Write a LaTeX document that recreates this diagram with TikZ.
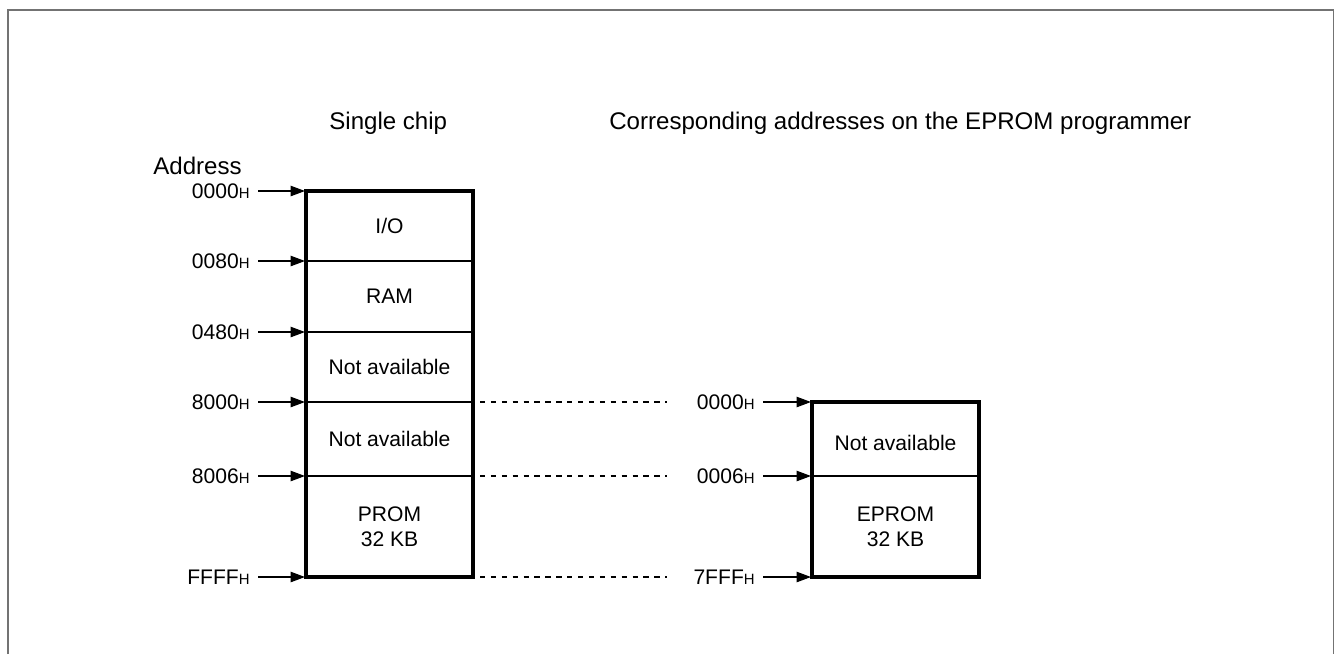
\documentclass[tikz,border=0pt]{standalone}
\usepackage{fontspec}
\setmainfont{Liberation Sans}
\usetikzlibrary{arrows.meta}
\usetikzlibrary{positioning}

\newcommand{\hexaddr}[1]{#1{\fontsize{8.5pt}{10pt}\selectfont H}}

\tikzset{
  cell/.style={align=center, font=\fontsize{12pt}{14.5pt}\selectfont},
  addrlabel/.style={anchor=east, inner xsep=0.16cm, inner ysep=0pt, font=\fontsize{12pt}{14.5pt}\selectfont},
  addrarrow/.style={-{Triangle[length=0.29cm, width=0.21cm]}, line width=0.65pt},
  title/.style={anchor=base west, inner sep=0pt, font=\fontsize{13.7pt}{16pt}\selectfont},
  memframe/.style={line width=1.8pt},
  divider/.style={line width=0.65pt},
  guide/.style={dash pattern=on 3pt off 3.2pt, line width=0.65pt}
}

\begin{document}
\begin{tikzpicture}[x=0.02cm, y=-0.02cm]
  \useasboundingbox (0,0) rectangle (1335,654);
  % outer frame, open at the bottom
  \draw [black!55, line width=0.7pt] (8,654) -- (8,10) -- (1333.5,10) -- (1333.5,654);

  % headings
  \node [title] (singlechip) at (329,129) {Single chip};
  \node [title] (programmer) at (609,129) {Corresponding addresses on the EPROM programmer};
  \node [title] (address) at (153,174) {Address};

  % single chip memory map
  \draw [memframe] (306,191) rectangle (473,577);
  \foreach \y in {261,332,402,476}
    \draw [divider] (306,\y) -- (473,\y);
  \node [cell] (io) at (389.5,226) {I/O};
  \node [cell] (ram) at (389.5,296.5) {RAM};
  \node [cell] (navail) at (389.5,367) {Not available};
  \node [cell] (nvector) at (389.5,439) {Not available};
  \node [cell] (prom) at (389.5,526.5) {PROM\\32 KB};

  \foreach \a/\y in {0000/191, 0080/261, 0480/332, 8000/402, 8006/476, FFFF/577} {
    \node [addrlabel] (l\a) at (258,\y) {\hexaddr{\a}};
    \coordinate (s\a) at (305,\y);
    \draw [addrarrow] (l\a.east) -- (s\a);
  }

  % EPROM programmer map
  \draw [memframe] (812,402) rectangle (979,577);
  \draw [divider] (812,476) -- (979,476);
  \node [cell] (enavail) at (895.5,443) {Not available};
  \node [cell] (eprom) at (895.5,526.5) {EPROM\\32 KB};

  \foreach \a/\y in {0000/402, 0006/476, 7FFF/577} {
    \node [addrlabel] (e\a) at (763,\y) {\hexaddr{\a}};
    \coordinate (p\a) at (811,\y);
    \draw [addrarrow] (e\a.east) -- (p\a);
  }

  % correspondence guides
  \foreach \y [count=\i] in {402,476,577} {
    \coordinate (gs\i) at (480,\y);
    \coordinate (ge\i) at (667,\y);
    \draw [guide] (gs\i) -- (ge\i);
  }
\end{tikzpicture}
\end{document}
